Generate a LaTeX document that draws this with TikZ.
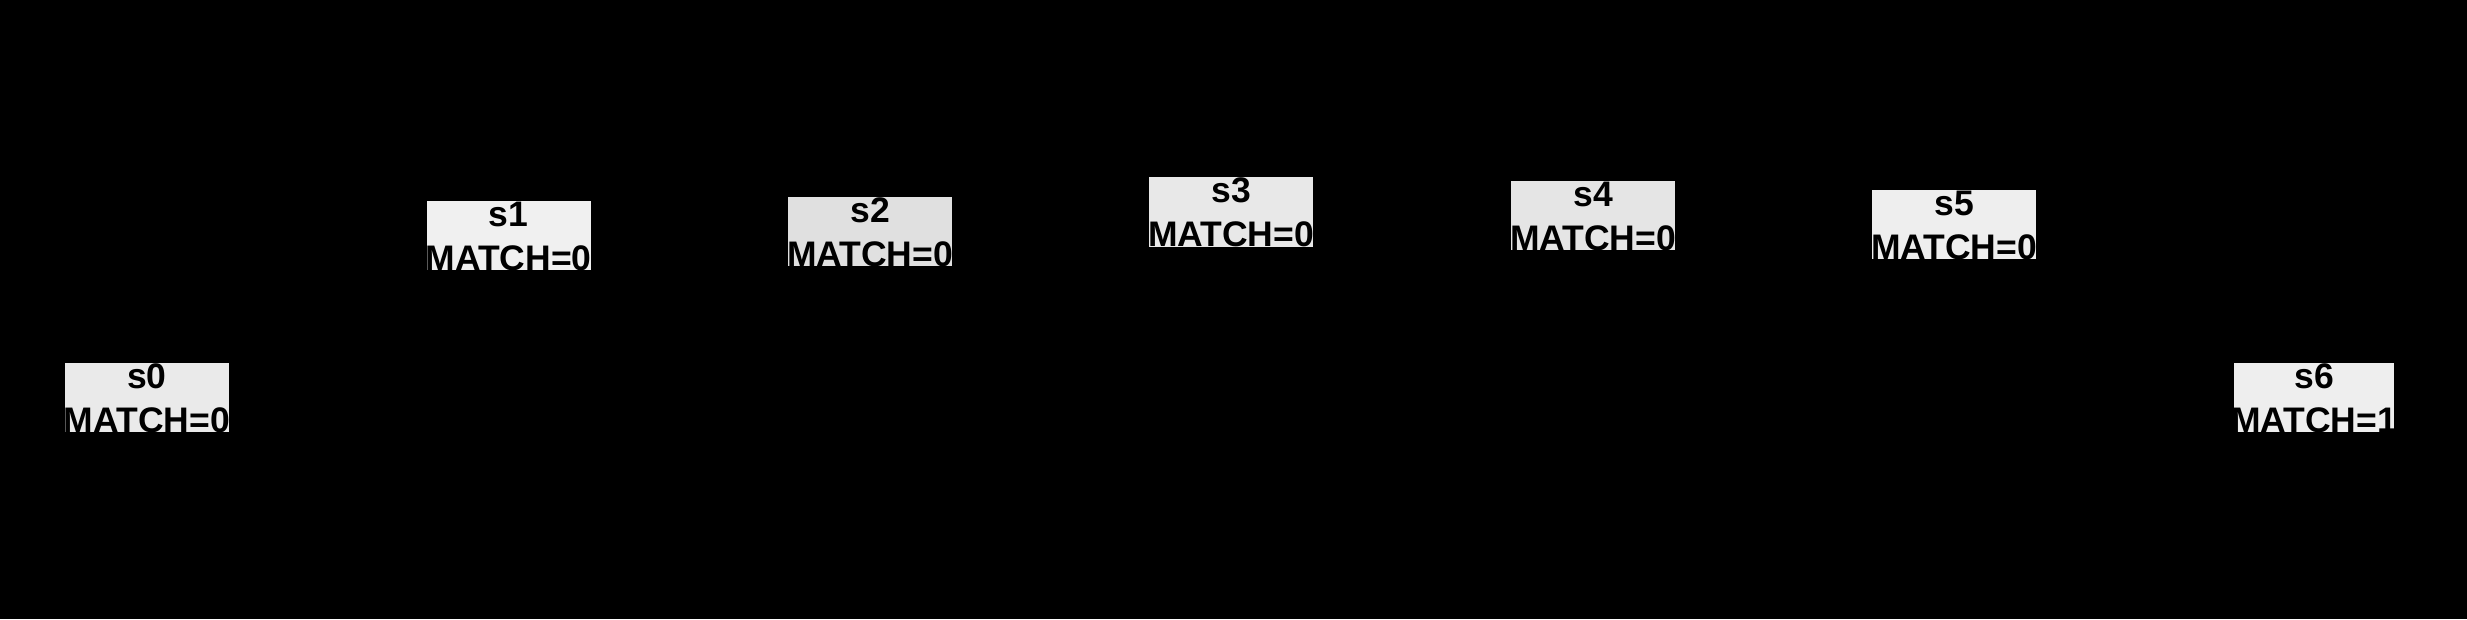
\documentclass[tikz,border=0pt]{standalone}
\usepackage{fontspec}
\setmainfont{Liberation Sans}
\definecolor{c0}{HTML}{EAEAEA}
\definecolor{c1}{HTML}{F0F0F0}
\definecolor{c2}{HTML}{E0E0E0}
\definecolor{c3}{HTML}{E8E8E8}
\definecolor{c4}{HTML}{E5E5E5}
\definecolor{c5}{HTML}{EEEEEE}
\definecolor{c6}{HTML}{EEEEEE}
\tikzset{
  stbox/.style={rectangle, draw=none, inner sep=0pt, minimum width=164pt, minimum height=69pt},
  lbl/.style={anchor=north, inner sep=0pt, yshift=-1pt, align=center, text=black,
    font=\bfseries\fontsize{35.5}{44}\selectfont}
}
\begin{document}
\begin{tikzpicture}[x=1pt,y=-1pt]
\fill[black] (0,0) rectangle (2467,619);
\useasboundingbox (0,0) rectangle (2467,619);
\node[stbox, fill=c0] (s0) at (147,397.5) {};
\node[stbox, fill=c1] (s1) at (508.5,235.5) {};
\node[stbox, fill=c2] (s2) at (870,231.5) {};
\node[stbox, fill=c3, minimum height=70pt] (s3) at (1231,212) {};
\node[stbox, fill=c4] (s4) at (1593,215.5) {};
\node[stbox, fill=c5] (s5) at (1954,224.5) {};
\node[stbox, fill=c6, minimum width=160pt] (s6) at (2314,397.5) {};
\node[lbl] (t0) at (s0.north) {s0\\MATCH=0};
\node[lbl] (t1) at (s1.north) {s1\\MATCH=0};
\node[lbl] (t2) at (s2.north) {s2\\MATCH=0};
\node[lbl] (t3) at (s3.north) {s3\\MATCH=0};
\node[lbl] (t4) at (s4.north) {s4\\MATCH=0};
\node[lbl] (t5) at (s5.north) {s5\\MATCH=0};
\node[lbl] (t6) at (s6.north) {s6\\MATCH=1};
\end{tikzpicture}
\end{document}
